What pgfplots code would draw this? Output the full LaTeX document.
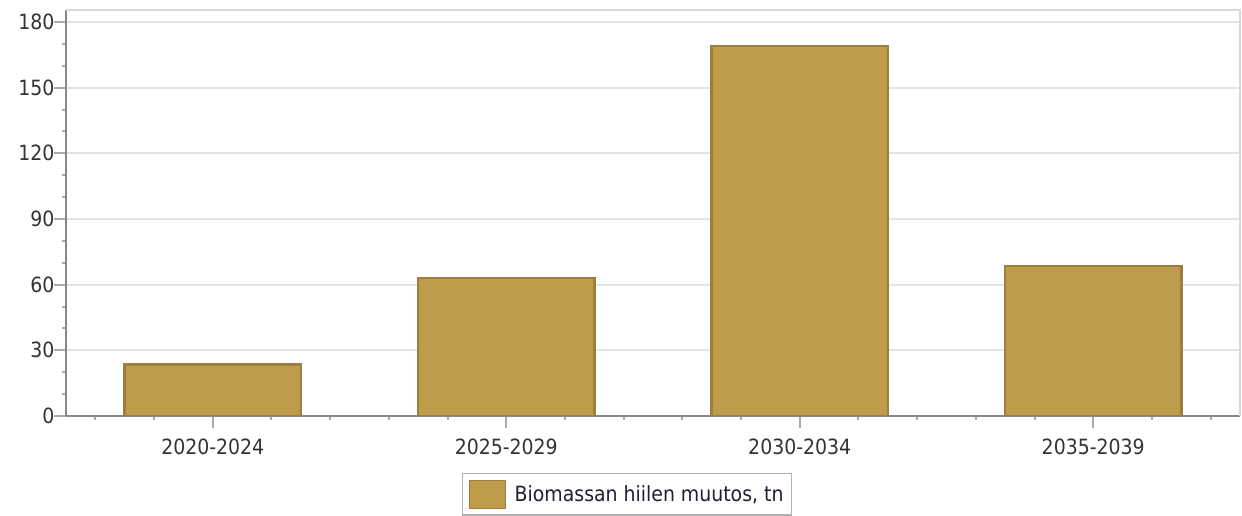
\documentclass[border=0pt]{standalone}
\usepackage{pgfplots}
\pgfplotsset{compat=1.18}
\usepackage{fontspec}
\setmainfont{DejaVu Sans Condensed}
\definecolor{barfill}{HTML}{BE9C4C}
\definecolor{baredge}{HTML}{9C7F3F}
\definecolor{gridc}{HTML}{E3E3E3}
\definecolor{framec}{HTML}{D8D8D8}
\definecolor{axisc}{HTML}{888888}
\definecolor{tickc}{HTML}{AAAAAA}
\definecolor{labc}{HTML}{333333}
\definecolor{legtext}{HTML}{1F1F35}
\definecolor{legframe}{HTML}{B0B0B0}
\begin{document}
\begin{tikzpicture}
\path[use as bounding box] (0,0) rectangle (1242pt,516pt);
\begin{axis}[
  at={(66pt,100pt)}, anchor=south west,
  scale only axis, width=1174pt, height=406pt,
  xmin=-0.5, xmax=3.5, ymin=0, ymax=185.5,
  axis lines=left, axis line style={-, axisc, line width=2.5pt},
  xtick={0,1,2,3},
  xticklabels={2020-2024,2025-2029,2030-2034,2035-2039},
  minor xtick={-0.4,-0.2,0.2,0.4,0.6,0.8,1.2,1.4,1.6,1.8,2.2,2.4,2.6,2.8,3.2,3.4},
  ytick={0,30,60,90,120,150,180},
  minor ytick={10,20,40,50,70,80,100,110,130,140,160,170},
  tick align=outside,
  major tick length=12pt, minor tick length=4pt,
  every tick/.style={tickc, line width=2pt},
  ymajorgrids, major grid style={gridc, line width=2pt},
  ticklabel style={font=\fontsize{21}{24}\selectfont, text=labc},
  xticklabel style={yshift=-7pt},
  yticklabel style={xshift=4pt},
  /pgf/number format/assume math mode=true,
  ybar, bar width=0.6,
  legend style={at={(axis description cs:0.478,-0.140)}, anchor=north,
    draw=legframe, line width=1.5pt, inner xsep=6pt, inner ysep=6pt,
    font=\fontsize{21}{24}\selectfont, text=legtext},
  legend image code/.code={\draw[#1, line width=1.5pt] (0pt,-14pt) rectangle (36pt,14pt); \path (42pt,0pt);},
  after end axis/.code={
    \draw[framec, line width=2.5pt] (rel axis cs:0,1) -- (rel axis cs:1,1) -- (rel axis cs:1,0);
  },
]
\addplot[fill=barfill, draw=baredge, line width=2.5pt] coordinates {(0,23.6) (1,63.0) (2,169.0) (3,68.5)};
\addlegendentry{Biomassan hiilen muutos, tn\hspace{9pt}}
\end{axis}
\end{tikzpicture}
\end{document}
